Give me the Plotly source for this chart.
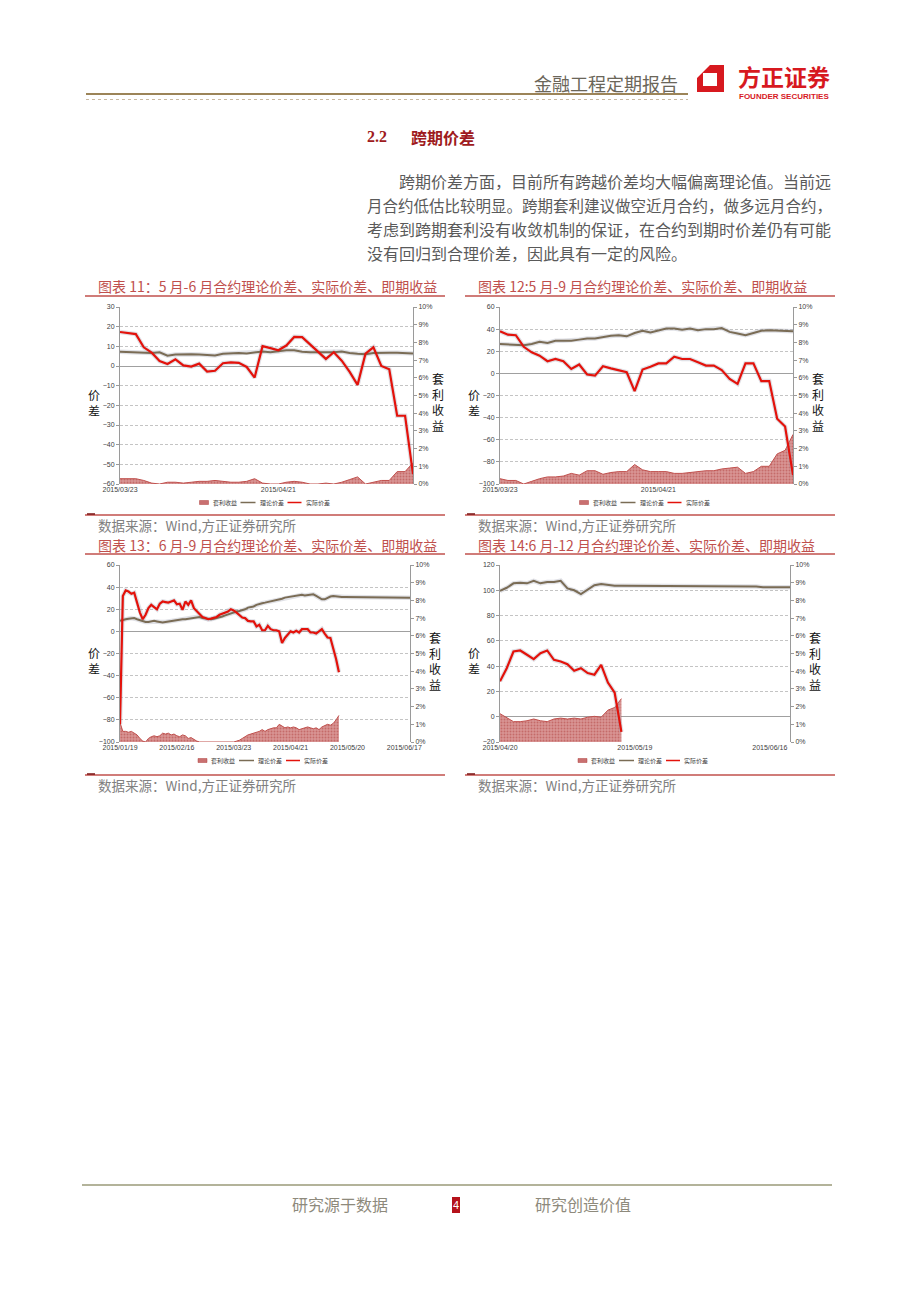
import pandas as pd
import plotly.graph_objects as go

W, H = 920, 1302
def X(px): return px / W
def Y(py): return 1 - py / H

# ---------------- categories (trading days) ----------------
holidays = {"2015/02/18", "2015/02/19", "2015/02/20", "2015/02/23", "2015/02/24",
            "2015/04/06", "2015/05/01"}
trade_days = [d.strftime("%Y/%m/%d") for d in pd.bdate_range("2015-01-19", "2015-06-19")]
trade_days = [d for d in trade_days if d not in holidays]
i0323 = trade_days.index("2015/03/23")
i0515 = trade_days.index("2015/05/15")
i0420 = trade_days.index("2015/04/20")
dates_11 = trade_days[i0323:i0515 + 1]
dates_12 = trade_days[i0323:i0515 + 1]
dates_13 = trade_days[:]
dates_14 = trade_days[i0420:]

# ---------------- series ----------------
# 图表11  5月-6月
arb_11 = [0.3, 0.3, 0.3, 0.2, 0.05, 0.0, 0.1, 0.1, 0.05, 0.1,
          0.15, 0.15, 0.2, 0.15, 0.1, 0.1, 0.15, 0.3, 0.05, 0.0,
          0.0, 0.1, 0.15, 0.1, 0.0, 0.0, 0.05, 0.0, 0.1, 0.25,
          0.4, 0.0, 0.1, 0.2, 0.2, 0.7, 0.7, 1.2]
theo_11 = [7.2, 7.0, 6.8, 6.6, 6.6, 7.0, 5.2, 5.8, 6.0, 6.0,
           5.8, 5.6, 5.4, 6.2, 6.4, 6.6, 6.4, 7.0, 7.4, 7.0,
           7.4, 8.0, 8.0, 7.2, 7.0, 7.0, 7.0, 7.0, 7.4, 6.6,
           6.2, 6.0, 6.6, 6.8, 6.8, 6.8, 6.6, 6.4]
act_11 = [17.3, 16.6, 16.2, 9.5, 6.8, 2.5, 1.0, 3.4, 0.3, -0.3,
          1.2, -2.8, -2.4, 1.4, 1.8, 1.6, -0.5, -5.9, 10.1, 9.1,
          8.0, 10.4, 14.8, 14.7, 11.0, 7.0, 3.6, 7.0, 2.7, -3.0,
          -9.6, 6.3, 9.5, 0.0, -1.7, -25.3, -25.3, -55.0]

# 图表12  5月-9月
arb_12 = [0.3, 0.2, 0.2, 0.0, 0.15, 0.3, 0.4, 0.4, 0.45, 0.6,
          0.5, 0.75, 0.75, 0.55, 0.65, 0.7, 0.7, 1.1, 0.8, 0.7,
          0.7, 0.7, 0.6, 0.6, 0.65, 0.7, 0.75, 0.75, 0.85, 0.9,
          0.95, 0.6, 0.7, 1.0, 1.0, 1.7, 1.9, 2.8]
theo_12 = [26.5, 26, 25.5, 25.5, 26.5, 28.5, 27.5, 29.5, 29.5, 29.5,
           30.5, 31.5, 31.5, 33, 34, 34.5, 33.5, 36.5, 38.5, 37,
           38.5, 40.5, 40.5, 39.5, 40.5, 39, 40, 40, 41, 37.5,
           36, 34.5, 36.5, 38.5, 39, 38.5, 38, 38]
act_12 = [38, 35, 34.5, 24, 19, 16, 11, 13, 11, 4,
          8, -1, -2, 6.5, 4.5, 3, 1, -16, 3.5, 6,
          9, 9, 15, 13, 13, 10, 7, 7, 3, -5,
          -9.5, 9, 9, -7, -7, -41, -48, -92]

# 图表13  6月-9月
arb_13 = [1.1, 0.6, 0.6, 0.55, 0.6, 0.5, 0.4, 0.2, 0.05, 0.0,
          0.2, 0.3, 0.35, 0.3, 0.35, 0.5, 0.45, 0.5, 0.4, 0.45,
          0.35, 0.3, 0.4, 0.35, 0.2, 0.25, 0.15, 0.05, 0.0, 0.0,
          0.0, 0.0, 0.0, 0.0, 0.0, 0.0, 0.0, 0.0, 0.0, 0.0,
          0.0, 0.05, 0.1, 0.2, 0.3, 0.4, 0.45, 0.5, 0.55, 0.6,
          0.7, 0.6, 0.7, 0.75, 0.8, 0.8, 1.0, 0.9, 0.8, 0.85,
          0.8, 0.85, 0.8, 0.7, 0.75, 0.8, 0.85, 0.8, 0.75, 0.8,
          0.7, 0.85, 0.95, 1.0, 0.95, 1.05, 1.25, 1.5]
theo_13 = [9.5, 10.5, 11, 11.5, 12, 12, 11, 10, 9, 8.5,
           8.5, 9, 9.5, 9, 8.5, 8, 8.5, 9, 9.5, 10,
           10, 10.5, 11, 11, 11.5, 12, 12.5, 13, 13, 12,
           11.5, 11, 11, 11.5, 12, 12.5, 13.5, 14.5, 15.5, 16.5,
           17.5, 18, 18.5, 19, 20, 21.5, 22, 22.5, 24, 25,
           25.5, 26, 26.5, 27.5, 28, 28.5, 29, 29.5, 30.5, 31,
           31.5, 32, 32.5, 32.5, 33, 32.5, 33, 33, 33.5, 32,
           30.5, 29, 29, 30.5, 31.5, 32, 31.5, 31, 31, 31,
           31, 31, 31, 31, 31, 31, 31, 31, 31, 31,
           31, 30.5, 30.5, 30.5, 30.5, 30.5, 30.5, 30.5, 30.5, 30.5,
           30.5, 30.5, 30.5]
act_13 = [-84, 32, 37, 36, 34, 35, 26, 17, 11, 15,
          21, 24, 22, 20, 25, 27, 26.5, 26, 27, 28,
          24.5, 25, 19.5, 27, 24, 28, 21, 18, 16, 13,
          12, 11, 11.5, 12, 13, 15, 16, 17, 18, 20,
          19, 17, 15, 12.5, 12, 9.5, 9, 9, 4.5, 6,
          1, 1, 5, 2, 1, 1, 0, -10.5, -6, -3,
          0, -1, 0.5, -1, 2, 2, 2, -1, -1, -2,
          0, 2, -2, -5.5, -6, -15, -25, -37]

# 图表14  6月-12月
arb_14 = [1.6, 1.35, 1.15, 1.15, 1.2, 1.3, 1.2, 1.15, 1.3, 1.35,
          1.3, 1.35, 1.3, 1.4, 1.45, 1.4, 1.8, 1.95, 2.45]
theo_14 = [99.5, 102, 105.5, 106, 105.5, 107.5, 105.5, 106.5, 106.5, 107.5,
           101.5, 100, 97, 100.5, 104, 105, 104, 103.5, 103.5, 103.5,
           103.5, 103.5, 103.5, 103.5, 103.5, 103.5, 103.5, 103.5, 103, 103,
           103, 103, 103, 103, 103, 103, 103, 103, 103, 102.5,
           102.5, 102.5, 102.5, 102.5]
act_14 = [28, 38.4, 51.6, 52.4, 49, 45.5, 50.3, 52.4, 45, 43.7,
          41.6, 36.3, 38.4, 34.5, 33.2, 41, 27, 19, -12]

titles = ["图表 11：5 月-6 月合约理论价差、实际价差、即期收益",
          "图表 12:5 月-9 月合约理论价差、实际价差、即期收益",
          "图表 13：6 月-9 月合约理论价差、实际价差、即期收益",
          "图表 14:6 月-12 月合约理论价差、实际价差、即期收益"]
legend_names = ["套利收益", "理论价差", "实际价差"]
source_text = "数据来源：Wind,方正证券研究所"

charts = [
    dict(dates=dates_11, arb=arb_11, theo=theo_11, act=act_11, yr=[-60, 30], dt=10,
         px=(120, 413), py=(307, 484), tick_every=20),
    dict(dates=dates_12, arb=arb_12, theo=theo_12, act=act_12, yr=[-100, 60], dt=20,
         px=(500, 793), py=(307, 484), tick_every=20),
    dict(dates=dates_13, arb=arb_13, theo=theo_13, act=act_13, yr=[-100, 60], dt=20,
         px=(120, 410), py=(565, 742), tick_every=20),
    dict(dates=dates_14, arb=arb_14, theo=theo_14, act=act_14, yr=[-20, 120], dt=20,
         px=(500, 790), py=(565, 742), tick_every=20),
]

RED = "#E3120B"
THEO = "#7A6C55"
AREA_LINE = "#C0504D"
TICKFONT = dict(family="Liberation Sans, Arial", size=7, color="#404040")
CJK = "Noto Sans CJK SC"

fig = go.Figure()
layout = dict(width=W, height=H, margin=dict(l=0, r=0, t=0, b=0, autoexpand=False),
              paper_bgcolor="white", plot_bgcolor="white", showlegend=False)
annotations = []
shapes = []

def line_shape(x0, x1, y0, y1, color, width, dash=None):
    ln = dict(color=color, width=width)
    if dash:
        ln["dash"] = dash
    return dict(type="line", xref="paper", yref="paper", x0=X(x0), x1=X(x1),
                y0=Y(y0), y1=Y(y1), line=ln)

def text_ann(x, y, text, size, color, family=CJK, xanchor="left"):
    return dict(x=X(x), y=Y(y), text=text, showarrow=False, xref="paper", yref="paper",
                xanchor=xanchor, yanchor="middle",
                font=dict(family=family, size=size, color=color))

for k, c in enumerate(charts, start=1):
    xid = "x" if k == 1 else f"x{k}"
    nb, no = 2 * k - 1, 2 * k
    ybase = "y" if nb == 1 else f"y{nb}"
    yover = f"y{no}"
    d = c["dates"]
    # area (base axis, right side, %)
    fig.add_trace(go.Scatter(
        x=d[:len(c["arb"])], y=c["arb"], name=legend_names[0], mode="lines",
        line=dict(color=AREA_LINE, width=1), fill="tozeroy",
        fillpattern=dict(shape=".", bgcolor="#D99594", fgcolor="#B0413E", size=3, solidity=0.35),
        xaxis=xid, yaxis=ybase, hoverinfo="skip"))
    # soft shadows under the lines
    for ser in (c["theo"], c["act"]):
        fig.add_trace(go.Scatter(
            x=d[:len(ser)], y=ser, mode="lines", showlegend=False,
            line=dict(color="rgba(165,170,182,0.35)", width=4.5),
            xaxis=xid, yaxis=yover, hoverinfo="skip"))
    fig.add_trace(go.Scatter(
        x=d[:len(c["theo"])], y=c["theo"], name=legend_names[1], mode="lines",
        line=dict(color=THEO, width=2), xaxis=xid, yaxis=yover))
    fig.add_trace(go.Scatter(
        x=d[:len(c["act"])], y=c["act"], name=legend_names[2], mode="lines",
        line=dict(color=RED, width=2.2), xaxis=xid, yaxis=yover))

    dom_x = [X(c["px"][0]), X(c["px"][1])]
    dom_y = [Y(c["py"][1]), Y(c["py"][0])]
    tv = d[::c["tick_every"]]
    layout["xaxis" if k == 1 else f"xaxis{k}"] = dict(
        domain=dom_x, anchor=ybase, type="category", categoryorder="array",
        categoryarray=d, tickmode="array", tickvals=tv, ticktext=tv,
        tickangle=0, tickfont=TICKFONT, showgrid=False, zeroline=False,
        showline=False, ticks="", fixedrange=True, automargin=False)
    layout["yaxis" if nb == 1 else f"yaxis{nb}"] = dict(
        domain=dom_y, anchor=xid, side="right", range=[0, 10], dtick=1,
        ticksuffix="%", tickfont=TICKFONT, showgrid=False, zeroline=False,
        showline=True, linecolor="#9A9A9A", linewidth=1, ticks="outside",
        ticklen=3, tickcolor="#9A9A9A", automargin=False)
    layout[f"yaxis{no}"] = dict(
        domain=dom_y, anchor=xid, overlaying=ybase, side="left", range=c["yr"],
        dtick=c["dt"], tickfont=TICKFONT, showgrid=True, gridcolor="#C4C4C4",
        griddash="3px,2px", gridwidth=1, zeroline=True, zerolinecolor="#A0A0A0",
        zerolinewidth=1, showline=True, linecolor="#9A9A9A", linewidth=1,
        ticks="outside", ticklen=3, tickcolor="#9A9A9A", automargin=False)

    # compact legend under the plot
    cx = (c["px"][0] + c["px"][1]) / 2
    ly = c["py"][1] + 18.5
    shapes.append(dict(type="rect", xref="paper", yref="paper",
                       x0=X(cx - 67), x1=X(cx - 58), y0=Y(ly + 2), y1=Y(ly - 2),
                       fillcolor="#C97070", line=dict(color="#B0413E", width=0.5)))
    shapes.append(line_shape(cx - 26, cx - 11, ly, ly, THEO, 1.5))
    shapes.append(line_shape(cx + 21, cx + 35, ly, ly, RED, 1.5))
    lfont = 6
    annotations.append(text_ann(cx - 56, ly, legend_names[0], lfont, "#404040"))
    annotations.append(text_ann(cx - 9, ly, legend_names[1], lfont, "#404040"))
    annotations.append(text_ann(cx + 37, ly, legend_names[2], lfont, "#404040"))

    # axis titles (stacked vertical characters)
    mid = (c["py"][0] + c["py"][1]) / 2 + 7
    annotations.append(dict(x=X(c["px"][0] - 26), y=Y(mid), text="价<br>差", showarrow=False,
                            xref="paper", yref="paper", xanchor="center", yanchor="middle",
                            font=dict(family=CJK, size=12, color="#111111")))
    annotations.append(dict(x=X(c["px"][1] + 25), y=Y(mid), text="套<br>利<br>收<br>益",
                            showarrow=False, xref="paper", yref="paper",
                            xanchor="center", yanchor="middle",
                            font=dict(family=CJK, size=12, color="#111111")))

# ---------------- titles, source lines ----------------
blocks = [(85, 445, 286, 296, 515, 525), (465, 835, 286, 296, 515, 525),
          (85, 445, 545, 554, 775, 785), (465, 835, 545, 554, 775, 785)]
for k, (x0, x1, ty, tl, sl, sy) in enumerate(blocks):
    annotations.append(text_ann(x0 + 11, ty, titles[k], 14, "#C0504D"))
    annotations.append(text_ann(x0 + 11, sy, source_text, 13.5, "#808080"))
    shapes.append(line_shape(x0, x1, tl, tl, "#C0504D", 1.5))
    shapes.append(line_shape(x0, x1, sl, sl, "#C0504D", 1.5))
    shapes.append(line_shape(x0 + 2, x0 + 10, sl - 1, sl - 1, "#7A1010", 1.5))

# ---------------- header ----------------
shapes.append(line_shape(86, 688, 94, 94, "#9C8458", 2))
shapes.append(line_shape(86, 688, 99.5, 99.5, "#C9B9A2", 1, "dot"))
annotations.append(text_ann(680, 83, "金融工程定期报告", 18, "#6B6659", xanchor="right"))

def pth(pts):
    return "M " + " L ".join(f"{X(a):.5f},{Y(b):.5f}" for a, b in pts) + " Z"
logo_outer = [(710, 65), (724, 65), (724, 92), (697, 92), (697, 78)]
logo_inner = [(703, 86), (717, 86), (717, 73), (703, 73)]
shapes.append(dict(type="path", xref="paper", yref="paper",
                   path=pth(logo_outer) + " " + pth(logo_inner),
                   fillcolor="#D7191F", line=dict(width=0)))
annotations.append(text_ann(736, 76, "<b>方正证券</b>", 23, "#D7191F"))
annotations.append(text_ann(737, 96.5, "<b>FOUNDER SECURITIES</b>", 8, "#D7191F",
                            family="Liberation Sans, Arial"))

# ---------------- section heading & body ----------------
annotations.append(text_ann(365, 137, "<b>2.2</b>", 16, "#9E1B20", family="Liberation Serif"))
annotations.append(text_ann(409, 137, "<b>跨期价差</b>", 16, "#9E1B20"))
body = [(397, 181, 16, "跨期价差方面，目前所有跨越价差均大幅偏离理论值。当前远"),
        (365, 205, 15.5, "月合约低估比较明显。跨期套利建议做空近月合约，做多远月合约，"),
        (365, 229, 16, "考虑到跨期套利没有收敛机制的保证，在合约到期时价差仍有可能"),
        (365, 253, 16, "没有回归到合理价差，因此具有一定的风险。")]
for bx, by, bs, bt in body:
    annotations.append(text_ann(bx, by, bt, bs, "#5A5A5A"))

# ---------------- footer ----------------
shapes.append(line_shape(82, 832, 1185, 1185, "#B3B39A", 2))
annotations.append(text_ann(290, 1204, "研究源于数据", 16, "#8E8A7C"))
annotations.append(text_ann(533, 1204, "研究创造价值", 16, "#8E8A7C"))
shapes.append(dict(type="rect", xref="paper", yref="paper", x0=X(452), x1=X(460),
                   y0=Y(1213), y1=Y(1197), fillcolor="#B5121B", line=dict(width=0)))
annotations.append(text_ann(456, 1205, "4", 11, "white", family="Liberation Sans",
                            xanchor="center"))

layout["annotations"] = annotations
layout["shapes"] = shapes
fig.update_layout(**layout)
fig.write_html("out.html")
